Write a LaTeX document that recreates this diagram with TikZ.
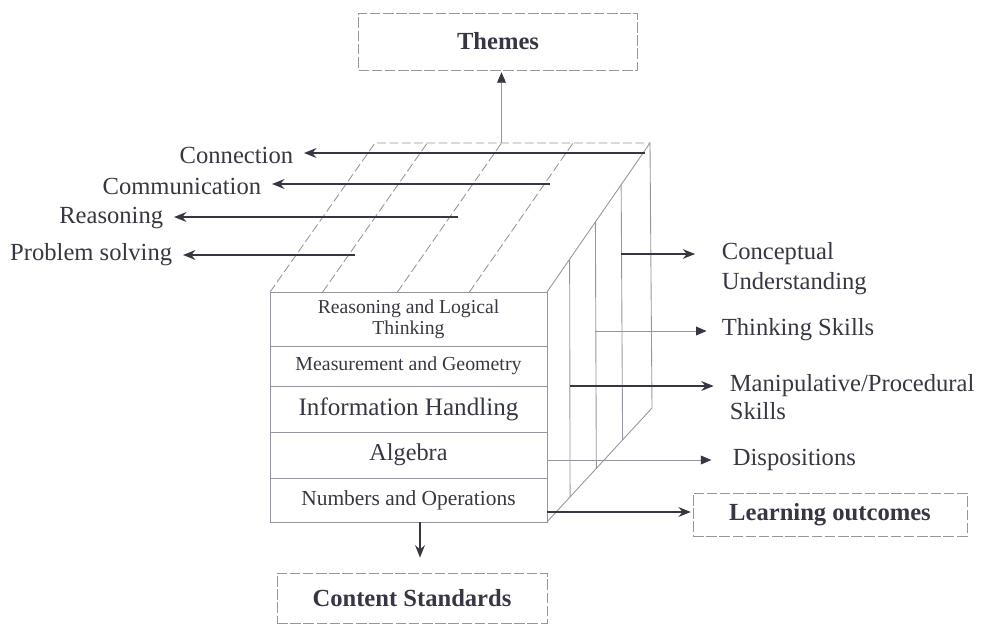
\documentclass[tikz,border=0pt]{standalone}
\usepackage{fontspec}
\setmainfont{Liberation Serif}
\usetikzlibrary{arrows.meta,positioning,calc}
\definecolor{ink}{RGB}{55,55,68}
\definecolor{faint}{RGB}{150,150,160}

\begin{document}
\begin{tikzpicture}[x=0.02cm,y=-0.02cm,
    txt/.style={text=ink,inner sep=2pt,font=\fontsize{14}{17}\selectfont},
    row/.style={draw=faint,line width=0.5pt,minimum width=5.54cm,outer sep=0pt,inner sep=1pt,text=ink,align=center},
    box/.style={draw=faint,line width=0.5pt,dash pattern=on 6pt off 1.5pt,text=ink,font=\bfseries\fontsize{14}{17}\selectfont},
    cube/.style={draw=faint,line width=0.5pt},
    grid/.style={cube,dash pattern=on 5pt off 2pt},
    heavy/.style={color=ink,line width=1.3pt,-{Stealth[length=7pt,width=5.5pt]}},
    light/.style={color=faint,line width=0.5pt,-{Triangle[length=6pt,width=5pt,color=ink]}}]
    \useasboundingbox (0,0) rectangle (981,625);
    % front face: content strands
    \node[row,minimum height=1.08cm,font=\fontsize{11.2}{12}\selectfont] (r_1) at (408.5,319) {Reasoning and Logical\\Thinking};
    \node[row,minimum height=0.8cm,font=\fontsize{11.3}{13}\selectfont]  (r_2) [below=0pt of r_1] {Measurement and Geometry};
    \node[row,minimum height=0.92cm,font=\fontsize{14.3}{16}\selectfont] (r_3) [below=0pt of r_2] {Information Handling};
    \node[row,minimum height=0.92cm,font=\fontsize{13.8}{16}\selectfont] (r_4) [below=0pt of r_3] {Algebra};
    \node[row,minimum height=0.88cm,font=\fontsize{12.2}{14}\selectfont] (r_5) [below=0pt of r_4] {Numbers and Operations};
    \coordinate (ftl) at (r_1.north west);
    \coordinate (ftr) at (r_1.north east);
    \coordinate (fbr) at (r_5.south east);
    \coordinate (btl) at (375,143);
    \coordinate (btr) at (650,143);
    \coordinate (bbr) at (652,408);
    % side and top faces
    \draw[cube] (ftr) -- (btr) -- (bbr) -- (fbr);
    \foreach \t in {0.22,0.47,0.72}
      \draw[cube] ($(ftr)!\t!(btr)$) -- ($(fbr)!\t!(bbr)$);
    \draw[grid] (ftl) -- (btl) -- (btr);
    \foreach \t in {0.19,0.46,0.72}
      \draw[grid] ($(ftl)!\t!(ftr)$) -- ($(btl)!\t!(btr)$);
    % boxes
    \node[box,minimum width=5.58cm,minimum height=1.14cm] (themes) at (498,41.5) {Themes};
    \node[box,minimum width=5.48cm,minimum height=0.86cm] (lo) at (830,514.5) {Learning outcomes};
    \node[box,minimum width=5.4cm,minimum height=1cm] (cs) at (412,598) {Content Standards};
    % processes
    \node[txt,anchor=east] (p_1) at (297,155) {Connection};
    \node[txt,anchor=east] (p_2) at (265,186) {Communication};
    \node[txt,anchor=east] (p_3) at (167,218) {Reasoning};
    \node[txt,anchor=east] (p_4) at (176,255) {Problem solving};
    % outcomes
    \node[txt,anchor=west,align=left] (o_1) at (718,269) {Conceptual\\Understanding};
    \node[txt,anchor=west] (o_2) at (718,330) {Thinking Skills};
    \node[txt,anchor=west,align=left,font=\fontsize{14}{15.5}\selectfont] (o_3) at (726,397) {Manipulative/Procedural\\Skills};
    \node[txt,anchor=west] (o_4) at (729,460) {Dispositions};
    % arrow starts
    \coordinate (q_1) at (645,153);
    \coordinate (q_2) at (550,184);
    \coordinate (q_3) at (458,217);
    \coordinate (q_4) at (355,255);
    \coordinate (u_1) at (621,254);
    \coordinate (u_2) at (595,331);
    \coordinate (u_3) at (570,386);
    \coordinate (u_4) at (547,460);
    \coordinate (u_5) at (547,512);
    \coordinate (t_0) at ($(btl)!0.46!(btr)$);
    \coordinate (d_1) at (420,522);
    % left edges
    \path[heavy,shorten >=4pt]
    (q_1) edge (q_1 -| p_1.east)
    (q_2) edge (q_2 -| p_2.east)
    (q_3) edge (q_3 -| p_3.east)
    (q_4) edge (q_4 -| p_4.east);
    % right edges
    \path[heavy]
    (u_1) edge [shorten >=13pt] (u_1 -| o_1.west)
    (u_3) edge [shorten >=7pt] (u_3 -| o_3.west)
    (u_5) edge [shorten >=1pt] (u_5 -| lo.west);
    \path[light]
    (u_2) edge [shorten >=6.5pt] (u_2 -| o_2.west)
    (u_4) edge [shorten >=10pt] (u_4 -| o_4.west);
    % themes and content standards
    \path[light] (t_0) edge [shorten >=1pt] (t_0 |- themes.south);
    \path[heavy] (d_1) edge [shorten >=8.5pt] (d_1 |- cs.north);
\end{tikzpicture}
\end{document}
